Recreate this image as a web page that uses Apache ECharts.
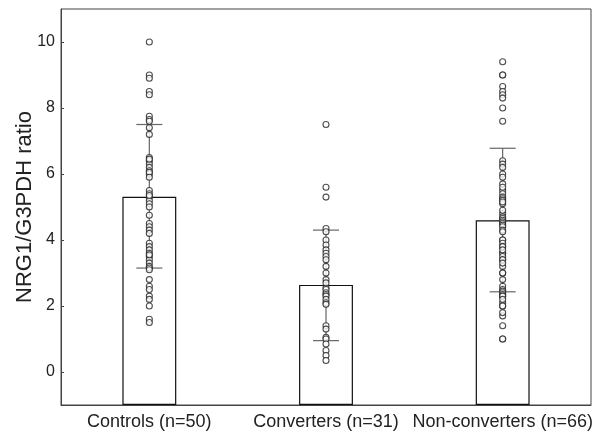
<!DOCTYPE html>
<html lang="en">
<head>
    <meta charset="UTF-8">
    <title>NRG1/G3PDH ratio</title>
    <script src="https://cdn.jsdelivr.net/npm/echarts@6/dist/echarts.min.js"></script>
    <style>
        html, body { margin: 0; padding: 0; background: #fff; }
    </style>
</head>
<body>
<div id="main" style="width: 609px;height: 433px;"></div>
<script type="text/javascript">
    // groups
    var categories = ['Controls (n=50)', 'Converters (n=31)', 'Non-converters (n=66)'];
    // bar heights (means) and error bar ends
    var means = [5.31, 2.64, 4.6];
    var errLow = [3.15, 0.95, 2.43];
    var errHigh = [7.5, 4.3, 6.78];
    var yTicks = [0, 2, 4, 6, 8, 10];

    // individual points
    var controls = [10.0, 9.0, 8.9, 8.5, 8.4, 7.75, 7.65, 7.6, 7.4, 7.2,
        6.5, 6.4, 6.3, 6.2, 6.1, 6.0, 5.5, 5.4, 5.3, 5.2,
        5.1, 5.0, 4.75, 4.5, 4.4, 4.3, 3.9, 3.8, 3.7, 3.6,
        3.5, 3.4, 3.3, 3.2, 3.15, 3.1, 2.8, 2.6, 2.3, 2.0,
        1.6, 1.5, 6.45, 6.05, 5.9, 5.35, 4.2, 3.55, 2.5, 2.2];
    var converters = [7.5, 5.6, 5.3, 4.35, 4.25, 4.0, 3.85, 3.7, 3.6, 3.5,
        3.4, 3.2, 2.8, 2.55, 2.5, 2.4, 2.35, 2.3, 2.2, 2.1,
        2.05, 1.4, 1.3, 1.05, 1.0, 0.85, 0.65, 0.5, 0.35, 3.0, 2.7];
    var nonConverters = [9.4, 9.0, 9.0, 8.65, 8.5, 8.4, 8.3, 8.0, 7.6,
        6.4, 6.3, 6.2, 6.0, 5.9, 5.7, 5.5, 5.4, 5.3, 5.25,
        5.2, 5.1, 4.8, 4.7, 4.65, 4.6, 4.55, 4.5, 4.45, 4.4,
        4.3, 4.25, 4.0, 4.0, 3.9, 3.8, 3.8, 3.6, 3.6, 3.5,
        3.4, 3.4, 3.2, 3.0, 3.0, 2.8, 2.6, 2.5, 2.45, 2.4,
        2.35, 2.3, 2.3, 2.1, 2.0, 2.0, 1.7, 1.4, 1.0, 1.0,
        5.6, 5.15, 4.9, 3.7, 3.3, 2.2, 1.8];

    var groups = [controls, converters, nonConverters];
    var points = [];
    for (var g = 0; g < groups.length; g++) {
        for (var i = 0; i < groups[g].length; i++) {
            points.push([g, groups[g][i]]);
        }
    }
    var errData = [];
    for (var k = 0; k < categories.length; k++) {
        errData.push([k, errLow[k], errHigh[k]]);
    }

    var myChart = echarts.init(document.getElementById('main'));
    myChart.setOption({
        animation: false,
        textStyle: { fontFamily: 'Liberation Sans, Arial, sans-serif' },
        grid: {
            left: 61, right: 18, top: 9, bottom: 28,
            outerBoundsMode: 'none',
            show: true, borderColor: '#444', borderWidth: 1
        },
        xAxis: {
            type: 'category',
            data: categories,
            axisLine: { onZero: false, lineStyle: { color: '#444', width: 1 } },
            axisTick: { show: false },
            axisLabel: { color: '#222', fontSize: 18, margin: 8, interval: 0 }
        },
        yAxis: {
            type: 'value',
            min: -1,
            max: 11,
            startValue: -1,
            name: 'NRG1/G3PDH ratio',
            nameLocation: 'middle',
            nameGap: 25,
            nameMoveOverlap: false,
            nameTextStyle: { color: '#222', fontSize: 22 },
            splitLine: { show: false },
            axisLine: { show: true, lineStyle: { color: '#444', width: 1 } },
            axisTick: { show: true, inside: true, length: 3, customValues: yTicks, lineStyle: { color: '#444' } },
            axisLabel: { color: '#222', fontSize: 16, margin: 6, customValues: yTicks }
        },
        series: [{
            type: 'bar',
            data: means,
            barWidth: '30.5%',
            itemStyle: { color: '#fff', borderColor: '#111', borderWidth: 1.2 },
            z: 1
        }, {
            type: 'custom',
            data: errData,
            z: 2,
            renderItem: function (params, api) {
                var x = api.value(0);
                var lo = api.coord([x, api.value(1)]);
                var hi = api.coord([x, api.value(2)]);
                var half = 13;
                var st = { stroke: '#666', lineWidth: 1.2 };
                return {
                    type: 'group',
                    children: [
                        { type: 'line', shape: { x1: lo[0], y1: lo[1], x2: hi[0], y2: hi[1] }, style: st },
                        { type: 'line', shape: { x1: lo[0] - half, y1: lo[1], x2: lo[0] + half, y2: lo[1] }, style: st },
                        { type: 'line', shape: { x1: hi[0] - half, y1: hi[1], x2: hi[0] + half, y2: hi[1] }, style: st }
                    ]
                };
            }
        }, {
            type: 'scatter',
            data: points,
            symbol: 'circle',
            symbolSize: 6,
            itemStyle: { color: '#fff', borderColor: '#222', borderWidth: 1.1 },
            z: 3
        }]
    });
</script>
</body>
</html>
